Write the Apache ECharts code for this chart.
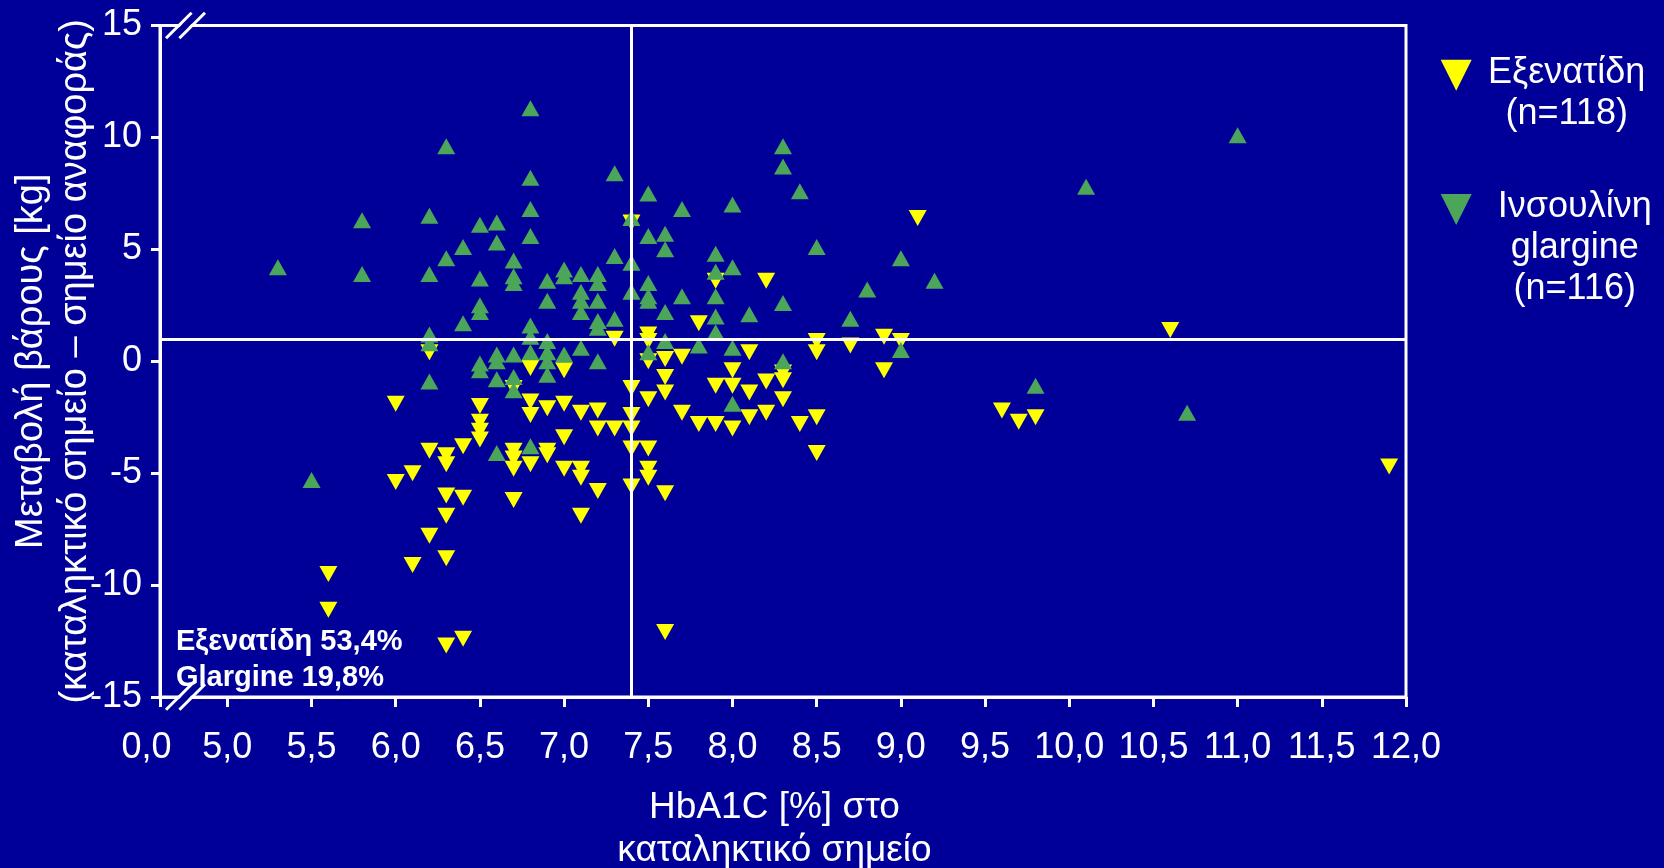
<!DOCTYPE html>
<html><head><meta charset="utf-8">
<script src="https://cdn.jsdelivr.net/npm/echarts@6/dist/echarts.min.js"></script>
<style>html,body{margin:0;padding:0;background:#000099;}#c{width:1664px;height:868px;}</style>
</head><body><div id="c"></div>
<script>
// ---------- data ----------
const seriesNames = ['Εξενατίδη', 'Ινσουλίνη glargine'];
const legendLinesExe = ['Εξενατίδη', '(n=118)'];
const legendLinesGla = ['Ινσουλίνη', 'glargine', '(n=116)'];

// [HbA1c at endpoint (%), weight change (kg)]
const exenatide = [
  [5.6,-9.5],[5.6,-11.1],[6.0,-1.9],[6.0,-5.4],[6.1,-5.0],[6.1,-9.1],[6.2,0.4],[6.2,-4.0],
  [6.2,-7.8],[6.3,-4.2],[6.3,-4.6],[6.3,-6.0],[6.3,-6.9],[6.3,-8.8],[6.3,-12.7],[6.4,-3.8],
  [6.4,-6.1],[6.4,-12.4],[6.5,-2.0],[6.5,-2.7],[6.5,-3.1],[6.5,-3.5],[6.7,-1.2],[6.7,-4.0],
  [6.7,-4.35],[6.7,-4.8],[6.7,-6.2],[6.8,-0.3],[6.8,-1.8],[6.8,-2.4],[6.8,-4.6],[6.9,-2.1],
  [6.9,-4.0],[6.9,-4.2],[7.0,-0.4],[7.0,-1.9],[7.0,-3.4],[7.0,-4.8],[7.1,-2.3],[7.1,-4.8],
  [7.1,-5.2],[7.1,-6.9],[7.2,-2.2],[7.2,-3.0],[7.2,-5.8],[7.3,1.0],[7.3,-3.0],[7.4,6.2],
  [7.4,-1.2],[7.4,-2.4],[7.4,-3.0],[7.4,-3.9],[7.4,-5.6],[7.5,1.2],[7.5,0.9],[7.5,0.0],
  [7.5,-1.7],[7.5,-3.9],[7.5,-4.8],[7.5,-5.2],[7.6,0.1],[7.6,-0.7],[7.6,-1.4],[7.6,-5.9],
  [7.6,-12.1],[7.7,0.2],[7.7,-2.3],[7.8,1.7],[7.8,-2.8],[7.9,3.6],[7.9,-1.1],[7.9,-2.8],
  [8.0,-0.4],[8.0,-1.1],[8.0,-3.0],[8.1,0.4],[8.1,-1.4],[8.1,-2.5],[8.2,3.6],[8.2,-0.9],
  [8.2,-2.3],[8.3,-0.5],[8.3,-0.85],[8.3,-1.7],[8.4,-2.8],[8.5,0.9],[8.5,0.4],[8.5,-2.5],
  [8.5,-4.1],[8.7,0.7],[8.9,1.1],[8.9,-0.4],[9.0,0.9],[9.1,6.4],[9.6,-2.2],[9.7,-2.7],
  [9.8,-2.5],[10.6,1.4],[11.9,-4.7]
];
const glargine = [
  [5.3,4.2],[5.5,-5.3],[5.8,6.3],[5.8,3.9],[6.2,6.5],[6.2,3.9],[6.2,1.2],[6.2,0.8],[6.2,-0.9],
  [6.3,9.6],[6.3,4.6],[6.4,5.1],[6.4,1.7],[6.5,6.1],[6.5,3.7],[6.5,2.5],[6.5,2.2],[6.5,-0.1],
  [6.5,-0.4],[6.6,6.2],[6.6,5.3],[6.6,0.3],[6.6,0.0],[6.6,-0.8],[6.6,-4.1],[6.7,4.5],[6.7,3.8],
  [6.7,3.5],[6.7,0.3],[6.7,-0.7],[6.7,-1.3],[6.8,11.3],[6.8,8.2],[6.8,6.8],[6.8,5.6],[6.8,1.6],
  [6.8,1.1],[6.8,0.4],[6.8,-3.8],[6.9,3.6],[6.9,2.7],[6.9,0.9],[6.9,0.4],[6.9,0.0],[6.9,-0.6],
  [7.0,4.1],[7.0,3.8],[7.0,0.3],[7.1,3.9],[7.1,3.1],[7.1,2.7],[7.1,2.2],[7.1,0.6],[7.2,3.9],
  [7.2,3.5],[7.2,2.7],[7.2,1.8],[7.2,1.5],[7.2,0.0],[7.3,8.4],[7.3,4.7],[7.3,1.9],[7.4,6.4],
  [7.4,4.4],[7.4,3.1],[7.5,7.5],[7.5,5.6],[7.5,3.5],[7.5,2.9],[7.5,2.7],[7.5,0.4],[7.6,5.7],
  [7.6,5.0],[7.6,2.2],[7.6,0.9],[7.7,6.8],[7.7,2.9],[7.8,0.7],[7.9,4.8],[7.9,4.0],[7.9,2.9],
  [7.9,2.0],[7.9,1.3],[8.0,7.0],[8.0,4.2],[8.0,0.6],[8.0,-1.9],[8.1,2.1],[8.3,9.6],[8.3,8.7],
  [8.3,2.6],[8.3,0.0],[8.4,7.6],[8.5,5.1],[8.7,1.9],[8.8,3.2],[9.0,4.6],[9.0,0.5],[9.2,3.6],
  [9.8,-1.1],[10.1,7.8],[10.7,-2.3],[11.0,10.1]
];

const xAxisStart = 4.6;           // broken axis start, labelled "0,0"
const xAxisEnd = 12.0;
const xTickValues = [4.6,5.0,5.5,6.0,6.5,7.0,7.5,8.0,8.5,9.0,9.5,10.0,10.5,11.0,11.5,12.0];
const yMin = -15, yMax = 15, yInterval = 5;
const refLineX = 7.4;
const refLineY = 1;
const noteLines = ['Εξενατίδη 53,4%', 'Glargine 19,8%'];
const xAxisTitle = ['HbA1C [%] στο', 'καταληκτικό σημείο'];
const yAxisTitle = ['Μεταβολή βάρους [kg]', '(καταληκτικό σημείο – σημείο αναφοράς)'];

// ---------- chart ----------
const FONT = '"Liberation Sans", Arial, sans-serif';
const BG = '#000099';
const GREEN = '#4BA65A';
const YELLOW = '#FFFF00';
const downTri = 'path://M0,0L10,0L5,10Z';

const chart = echarts.init(document.getElementById('c'), null, {renderer: 'canvas'});

const gridL = 160, gridR = 1406, gridT = 25.5, gridB = 697;

function fmtX(v) {
  if (Math.abs(v - xAxisStart) < 1e-6) return '{z|0,0}';
  return v.toFixed(1).replace('.', ',');
}
function richLegend(lines) {
  return lines.map(l => '{c|' + l + '}').join('\n');
}

const legendCommon = {
  orient: 'vertical', left: 1440.7, padding: 0,
  itemWidth: 31, itemHeight: 31, icon: downTri, selectedMode: false, itemGap: 0
};
function legendRich(w) {
  return { c: { width: w, align: 'center', fontSize: 36, lineHeight: 41, color: '#fff', fontFamily: FONT } };
}

// axis-break marks: two slashes with a background-coloured gap cutting the axis line
function breakMark(cx, cy) {
  const els = [];
  els.push({ type: 'line', z: 99, shape: { x1: cx - 5, y1: cy + 6, x2: cx + 5, y2: cy - 6 },
             style: { stroke: BG, lineWidth: 7 } });
  [-6.7, 6.7].forEach(dx => {
    els.push({ type: 'line', z: 100,
      shape: { x1: cx + dx - 12.8, y1: cy + 12.8, x2: cx + dx + 12.8, y2: cy - 12.8 },
      style: { stroke: '#fff', lineWidth: 3 } });
  });
  return els;
}

const option = {
  backgroundColor: BG,
  animation: false,
  textStyle: { fontFamily: FONT },
  grid: {
    left: gridL, right: 1664 - gridR, top: gridT, bottom: 868 - gridB,
    containLabel: false, outerBoundsMode: 'none',
    show: true, borderColor: '#fff', borderWidth: 3, backgroundColor: 'transparent'
  },
  title: {
    text: noteLines.join('\n'),
    left: 176, top: 623.5, padding: 0,
    textStyle: { color: '#fff', fontSize: 29, fontWeight: 'bold', lineHeight: 36.6, fontFamily: FONT }
  },
  legend: [
    Object.assign({}, legendCommon, {
      top: 55,
      data: [seriesNames[0]],
      formatter: () => richLegend(legendLinesExe),
      textStyle: { color: '#fff', padding: [36.6, 0, 0, 0], rich: legendRich(180) }
    }),
    Object.assign({}, legendCommon, {
      top: 189.5,
      data: [seriesNames[1]],
      formatter: () => richLegend(legendLinesGla),
      textStyle: { color: '#fff', padding: [78, 0, 0, 0], rich: legendRich(196) }
    })
  ],
  xAxis: {
    type: 'value', min: xAxisStart, max: xAxisEnd,
    name: xAxisTitle.join('\n'), nameLocation: 'middle', nameGap: 89,
    nameMoveOverlap: false,
    nameTextStyle: { color: '#fff', fontSize: 37, lineHeight: 43, fontFamily: FONT, padding: [0, 17, 0, 0] },
    axisLine: { show: true, onZero: false, lineStyle: { color: '#fff', width: 3 } },
    axisTick: { show: true, inside: false, length: 10, customValues: xTickValues, lineStyle: { color: '#fff', width: 3 } },
    axisLabel: {
      color: '#fff', fontSize: 36, margin: 33, customValues: xTickValues, formatter: fmtX,
      fontFamily: FONT,
      rich: { z: { fontSize: 36, color: '#fff', padding: [0, 27, 0, 0], fontFamily: FONT } }
    },
    splitLine: { show: false }
  },
  yAxis: {
    type: 'value', min: yMin, max: yMax, interval: yInterval,
    name: yAxisTitle.join('\n'), nameLocation: 'middle', nameGap: 62,
    nameMoveOverlap: false,
    nameTextStyle: { color: '#fff', fontSize: 38, lineHeight: 44, fontFamily: FONT },
    axisLine: { show: true, onZero: false, lineStyle: { color: '#fff', width: 3 } },
    axisTick: { show: true, inside: false, length: 9, lineStyle: { color: '#fff', width: 3 } },
    axisLabel: { color: '#fff', fontSize: 36, margin: 18, fontFamily: FONT },
    splitLine: { show: false }
  },
  series: [
    {
      name: seriesNames[0], type: 'scatter', data: exenatide,
      symbol: 'triangle', symbolRotate: 180, symbolSize: [18, 16],
      itemStyle: { color: YELLOW, opacity: 1 }, z: 2,
      markLine: {
        silent: true, symbol: ['none', 'none'], label: { show: false },
        lineStyle: { color: '#fff', width: 3, type: 'solid' },
        emphasis: { disabled: true },
        data: [{ xAxis: refLineX }, { yAxis: refLineY }]
      }
    },
    {
      name: seriesNames[1], type: 'scatter', data: glargine,
      symbol: 'triangle', symbolSize: [18, 16],
      itemStyle: { color: GREEN, opacity: 1 }, z: 3
    }
  ],
  graphic: breakMark(185.5, gridT).concat(breakMark(185.5, gridB))
};
chart.setOption(option);
</script>
</body></html>
